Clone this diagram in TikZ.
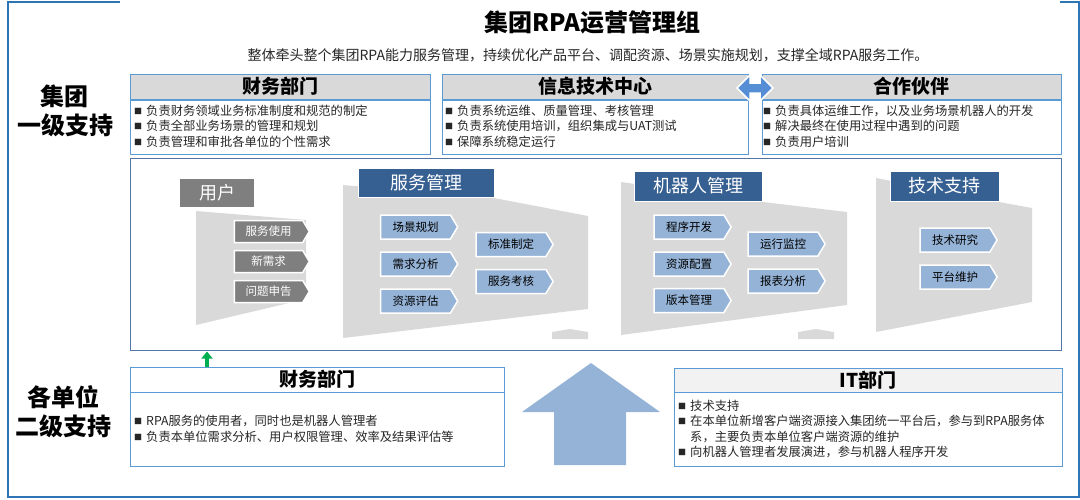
\documentclass[tikz,border=0pt]{standalone}
\usepackage{fontspec}
\setmainfont{Noto Sans CJK SC}
\usetikzlibrary{shapes.symbols,arrows.meta}
\definecolor{bdblue}{HTML}{5B9BD5}
\definecolor{hdrgray}{HTML}{D9D9D9}
\definecolor{frameblue}{HTML}{5375A6}
\definecolor{funnelgray}{HTML}{D9D9D9}
\definecolor{boxgray}{HTML}{7F7F7F}
\definecolor{navy}{HTML}{376092}
\definecolor{chevblue}{HTML}{95B3D7}
\definecolor{outerblue}{HTML}{2E75B6}
\definecolor{bigarrow}{HTML}{95B3D7}
\definecolor{darrow}{HTML}{558ED5}
\definecolor{grn}{HTML}{00B050}
\definecolor{itgray}{HTML}{F2F2F2}
\definecolor{txtc}{HTML}{262626}
\newcommand\myfs[1]{\fontsize{#1}{#1}\selectfont}
\newcommand\bu{\makebox[12pt][l]{\raisebox{1pt}{\myfs{8}■}}}
\tikzset{
  hdr/.style={draw=bdblue, fill=hdrgray, line width=1pt, inner sep=0pt, font=\bfseries\myfs{19}},
  bodybox/.style={draw=bdblue, fill=white, line width=1pt, inner sep=0pt},
  bodytxt/.style={anchor=west, align=left, inner sep=0pt, text=txtc, font=\fontsize{12.3}{15.5}\selectfont},
  sidelbl/.style={align=center, inner sep=0pt, font=\bfseries\fontsize{24}{29}\selectfont},
  grayhdr/.style={fill=boxgray, text=white, inner sep=0pt, font=\myfs{18}},
  navyhdr/.style={fill=navy, draw=white, line width=1pt, text=white, inner sep=0pt, font=\myfs{18}},
  chev/.style={signal, signal to=east, signal pointer angle=118, draw=white, line width=1.5pt, inner sep=0pt, font=\myfs{11.5}},
  gchev/.style={chev, fill=boxgray, text=white, minimum width=75pt, minimum height=22pt},
  bchev/.style={chev, fill=chevblue, text=black, minimum width=77pt, minimum height=24pt},
  funnel/.style={fill=funnelgray},
}
\begin{document}
\begin{tikzpicture}[x=1pt,y=-1pt]
\useasboundingbox (0,0) rectangle (1080,499);
% outer frame
\draw[outerblue, line width=1.2pt] (120,2) -- (8,2) -- (8,497) -- (1079,497) -- (1079,2) -- (1060,2);
% title
\node[inner sep=0pt, font=\bfseries\myfs{24}] (title) at (592,22) {集团RPA运营管理组};
\node[inner sep=0pt, text=txtc, font=\myfs{14}] (sub) at (588,55) {整体牵头整个集团RPA能力服务管理，持续优化产品平台、调配资源、场景实施规划，支撑全域RPA服务工作。};
% side labels
\node[sidelbl] (lvl1) at (65,111) {集团\\一级支持};
\node[sidelbl] (lvl2) at (64,412) {各单位\\二级支持};
% top boxes
\node[hdr, minimum width=300pt, minimum height=25pt] (h1) at (280,86.5) {财务部门};
\node[bodybox, minimum width=300pt, minimum height=54pt] (b1) at (280,127) {};
\node[bodytxt] (t1) at (134,126) {\bu 负责财务领域业务标准制度和规范的制定\\\bu 负责全部业务场景的管理和规划\\\bu 负责管理和审批各单位的个性需求};
\node[hdr, minimum width=306pt, minimum height=25pt] (h2) at (595,86.5) {信息技术中心};
\node[bodybox, minimum width=306pt, minimum height=54pt] (b2) at (595,127) {};
\node[bodytxt] (t2) at (445,126) {\bu 负责系统运维、质量管理、考核管理\\\bu 负责系统使用培训，组织集成与UAT测试\\\bu 保障系统稳定运行};
\node[hdr, minimum width=299pt, minimum height=25pt] (h3) at (911.5,86.5) {合作伙伴};
\node[bodybox, minimum width=299pt, minimum height=54pt] (b3) at (911.5,127) {};
\node[bodytxt] (t3) at (763,126) {\bu 负责具体运维工作，以及业务场景机器人的开发\\\bu 解决最终在使用过程中遇到的问题\\\bu 负责用户培训};
% double arrow
\filldraw[fill=darrow, draw=white, line width=1.5pt] (737,88) -- (750,75) -- (750,83) -- (760,83) -- (760,75) -- (773,88) -- (760,101) -- (760,93) -- (750,93) -- (750,101) -- cycle;
% main frame
\node[draw=frameblue, line width=1pt, minimum width=931pt, minimum height=192pt, inner sep=0pt] (mid) at (595.5,254) {};
% funnels
\fill[funnel] (196,211) -- (306,220) -- (306,299) -- (196,325) -- cycle;
\fill[funnel] (343,185) -- (494,198) -- (588,216) -- (588,309) -- (343,338) -- cycle;
\fill[funnel] (621,182) -- (763,202) -- (847,212) -- (847,305) -- (621,335) -- cycle;
\fill[funnel] (876,178) -- (999,202) -- (1032,208) -- (1032,302) -- (876,332) -- cycle;
\fill[funnel] (552,332) -- (570,329) -- (588,332) -- (588,339) -- (552,339) -- cycle;
\fill[funnel] (798,332) -- (816,329) -- (834,332) -- (834,339) -- (798,339) -- cycle;
% user column
\node[grayhdr, minimum width=74pt, minimum height=28pt] (user) at (217,193) {用户};
\node[gchev] (u1) at (268.5,231.5) {服务使用};
\node[gchev] (u2) at (268.5,261.5) {新需求};
\node[gchev] (u3) at (268.5,291.5) {问题申告};
% service management
\node[navyhdr, minimum width=136pt, minimum height=29pt] (svc) at (426,182.5) {服务管理};
\node[bchev] (s1) at (415.5,227) {场景规划};
\node[bchev] (s2) at (415.5,264) {需求分析};
\node[bchev] (s3) at (415.5,301) {资源评估};
\node[bchev] (s4) at (511,244.5) {标准制定};
\node[bchev] (s5) at (511,281.5) {服务考核};
% robot management
\node[navyhdr, minimum width=128pt, minimum height=30pt] (rob) at (698,186) {机器人管理};
\node[bchev] (r1) at (689,227) {程序开发};
\node[bchev] (r2) at (689,264) {资源配置};
\node[bchev] (r3) at (689,300.5) {版本管理};
\node[bchev] (r4) at (783,244) {运行监控};
\node[bchev] (r5) at (783,281) {报表分析};
% tech support
\node[navyhdr, minimum width=109pt, minimum height=30pt] (tech) at (944.5,186) {技术支持};
\node[bchev] (k1) at (955,240) {技术研究};
\node[bchev] (k2) at (955,277) {平台维护};
% bottom finance box
\node[bodybox, minimum width=374pt, minimum height=99pt] (fin2) at (317,416.5) {};
\node[hdr, fill=white, minimum width=374pt, minimum height=25pt] (fin2h) at (317,379.5) {财务部门};
\node[bodytxt] (tf) at (134,429) {\bu RPA服务的使用者，同时也是机器人管理者\\\bu 负责本单位需求分析、用户权限管理、效率及结果评估等};
% bottom IT box
\node[bodybox, minimum width=388pt, minimum height=98pt] (it) at (868,417) {};
\node[hdr, fill=itgray, minimum width=388pt, minimum height=24pt] (ith) at (868,380) {IT部门};
\node[bodytxt] (ti) at (678,429) {\bu 技术支持\\\bu 在本单位新增客户端资源接入集团统一平台后，参与到RPA服务体\\\hspace*{12pt}系，主要负责本单位客户端资源的维护\\\bu 向机器人管理者发展演进，参与机器人程序开发};
% big up arrow
\fill[bigarrow] (591,363) -- (660,412) -- (626,412) -- (626,465) -- (554,465) -- (554,412) -- (522,412) -- cycle;
% green arrow
\coordinate (gx) at (207,0);
\draw[grn, line width=4pt, -{Triangle[length=7pt,width=11pt]}] (fin2h.north -| gx) -- ([yshift=-1pt]mid.south -| gx);
\end{tikzpicture}
\end{document}
